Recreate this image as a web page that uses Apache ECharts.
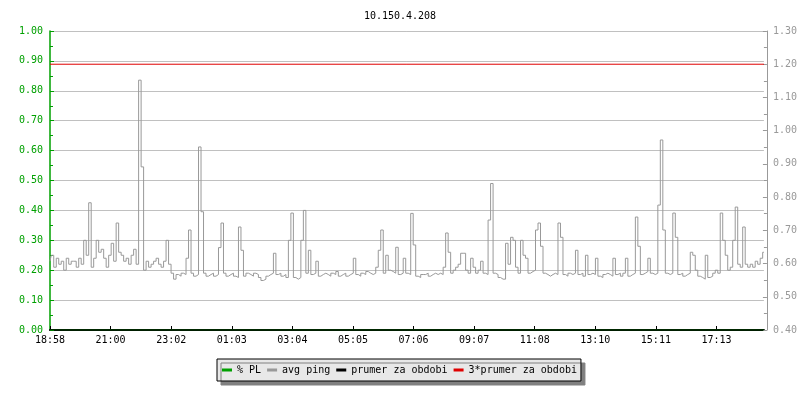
<!DOCTYPE html>
<html>
<head>
<meta charset="utf-8">
<script src="https://cdn.jsdelivr.net/npm/echarts@6/dist/echarts.min.js"></script>
<style>
html,body{margin:0;padding:0;background:#fff;}
#chart{width:800px;height:400px;}
</style>
</head>
<body>
<div id="chart"></div>
<script>
// ---- data ----
const chartTitle = '10.150.4.208';
const sampleMinutes = 5;           // one sample every 5 minutes, starting 18:58
const tickStepMinutes = 121.36;    // spacing of the time labels
const tickLabels = ['18:58','21:00','23:02','01:03','03:04','05:05','07:06','09:07','11:08','13:10','15:11','17:13'];
const seriesNames = ['% PL','avg ping','prumer za obdobi','3*prumer za obdobi'];

// avg ping [ms], right axis
const avgPing = [
0.607,0.625,0.589,0.616,0.598,0.607,0.580,0.616,0.598,0.607,
0.607,0.589,0.616,0.598,0.670,0.625,0.783,0.589,0.616,0.670,
0.634,0.643,0.616,0.589,0.625,0.661,0.607,0.722,0.634,0.625,
0.607,0.616,0.598,0.625,0.643,0.598,1.152,0.891,0.580,0.607,
0.589,0.598,0.607,0.616,0.598,0.589,0.607,0.670,0.598,0.571,
0.553,0.567,0.562,0.571,0.567,0.616,0.701,0.571,0.562,0.567,
0.951,0.756,0.571,0.562,0.567,0.571,0.562,0.567,0.648,0.722,
0.571,0.562,0.567,0.571,0.562,0.558,0.710,0.640,0.562,0.571,
0.567,0.562,0.571,0.567,0.558,0.549,0.553,0.562,0.567,0.571,
0.631,0.567,0.571,0.562,0.567,0.558,0.670,0.752,0.558,0.553,
0.558,0.670,0.760,0.571,0.640,0.567,0.571,0.607,0.562,0.567,
0.571,0.567,0.562,0.571,0.567,0.576,0.562,0.567,0.571,0.562,
0.567,0.571,0.616,0.567,0.562,0.571,0.567,0.576,0.571,0.567,
0.571,0.589,0.640,0.701,0.571,0.625,0.580,0.576,0.571,0.649,
0.567,0.571,0.616,0.571,0.567,0.751,0.656,0.562,0.558,0.567,
0.567,0.571,0.562,0.567,0.571,0.567,0.571,0.567,0.589,0.692,
0.634,0.571,0.580,0.589,0.598,0.631,0.631,0.580,0.571,0.616,
0.589,0.571,0.580,0.607,0.571,0.567,0.731,0.841,0.571,0.567,
0.558,0.553,0.553,0.661,0.598,0.679,0.670,0.589,0.571,0.670,
0.625,0.616,0.571,0.576,0.580,0.701,0.722,0.652,0.571,0.567,
0.562,0.567,0.571,0.567,0.722,0.679,0.567,0.562,0.571,0.567,
0.571,0.640,0.567,0.571,0.562,0.625,0.567,0.571,0.567,0.616,
0.562,0.558,0.567,0.571,0.567,0.562,0.616,0.567,0.571,0.562,
0.571,0.616,0.562,0.567,0.571,0.740,0.652,0.567,0.571,0.576,
0.616,0.571,0.567,0.571,0.776,0.972,0.701,0.571,0.567,0.571,
0.752,0.679,0.567,0.571,0.562,0.567,0.571,0.634,0.625,0.580,
0.562,0.558,0.553,0.625,0.558,0.562,0.571,0.580,0.571,0.752,
0.670,0.625,0.580,0.589,0.670,0.770,0.598,0.589,0.710,0.598,
0.589,0.598,0.589,0.607,0.598,0.616,0.634
];
// packet loss [%], left axis: 0 at start and end of period
const packetLoss = [0, 0];
const prumer = 0.4;      // period average (right axis)
const prumer3 = 1.2;     // 3 * period average (right axis)

// ---- chart ----
const mono = 'DejaVu Sans Mono';
const endMin = (avgPing.length - 1) * sampleMinutes;
const tickValues = tickLabels.map((_, k) => k * tickStepMinutes);
const green = '#00a000', grey = '#999999';

const chart = echarts.init(document.getElementById('chart'), null, {renderer: 'canvas'});
chart.setOption({
  backgroundColor: '#ffffff',
  animation: false,
  title: {
    text: chartTitle, left: 'center', top: 6,
    textStyle: {fontFamily: mono, fontSize: 10, fontWeight: 'normal', color: '#000'}
  },
  legend: {
    data: seriesNames,
    left: 217, top: 359,
    padding: [6, 4, 6, 5],
    itemGap: 6, itemWidth: 10, itemHeight: 3, icon: 'rect',
    backgroundColor: '#e8e8e8', borderColor: '#000', borderWidth: 1,
    shadowColor: '#808080', shadowBlur: 0, shadowOffsetX: 4, shadowOffsetY: 4,
    textStyle: {fontFamily: mono, fontSize: 10, color: '#000'}
  },
  grid: {left: 50, top: 31, width: 717, height: 299},
  xAxis: {
    type: 'value', min: 0, max: endMin,
    axisLine: {show: true, lineStyle: {color: '#000', width: 2}},
    axisTick: {show: true, inside: true, length: 4, customValues: tickValues, lineStyle: {color: '#000'}},
    axisLabel: {
      customValues: tickValues, margin: 5,
      fontFamily: mono, fontSize: 10, color: '#000',
      formatter: v => tickLabels[Math.round(v / tickStepMinutes)] || ''
    },
    splitLine: {show: false}
  },
  yAxis: [
    {
      type: 'value', position: 'left', min: 0, max: 1, interval: 0.1,
      axisLine: {show: true, lineStyle: {color: green, width: 1.5}},
      axisTick: {show: true, inside: true, length: 4, lineStyle: {color: green}},
      minorTick: {show: true, splitNumber: 2, length: 3, lineStyle: {color: green}},
      axisLabel: {margin: 7, fontFamily: mono, fontSize: 10, color: green, formatter: v => v.toFixed(2)},
      splitLine: {show: true, lineStyle: {color: '#c0c0c0', width: 1}}
    },
    {
      type: 'value', position: 'right', offset: 3, min: 0.4, max: 1.3, interval: 0.1,
      axisLine: {show: true, lineStyle: {color: grey, width: 1}},
      axisTick: {show: true, inside: true, length: 4, lineStyle: {color: grey}},
      minorTick: {show: true, splitNumber: 2, length: 3, lineStyle: {color: grey}},
      axisLabel: {margin: 6, fontFamily: mono, fontSize: 10, color: grey, formatter: v => v.toFixed(2)},
      splitLine: {show: false}
    }
  ],
  series: [
    {
      name: seriesNames[0], type: 'line', yAxisIndex: 0, color: green,
      showSymbol: false, symbol: 'none', lineStyle: {width: 1, color: green},
      data: packetLoss.map((v, i) => [i * endMin, v])
    },
    {
      name: seriesNames[1], type: 'line', yAxisIndex: 1, color: grey, step: 'middle',
      showSymbol: false, symbol: 'none', lineStyle: {width: 1, color: grey},
      data: avgPing.map((v, i) => [i * sampleMinutes, v])
    },
    {
      name: seriesNames[2], type: 'line', yAxisIndex: 1, color: '#000',
      showSymbol: false, symbol: 'none', lineStyle: {width: 1, color: '#000'},
      data: [[0, prumer], [endMin, prumer]]
    },
    {
      name: seriesNames[3], type: 'line', yAxisIndex: 1, color: '#e00000',
      showSymbol: false, symbol: 'none', lineStyle: {width: 1, color: '#e00000'},
      data: [[0, prumer3], [endMin, prumer3]]
    }
  ]
});
</script>
</body>
</html>
